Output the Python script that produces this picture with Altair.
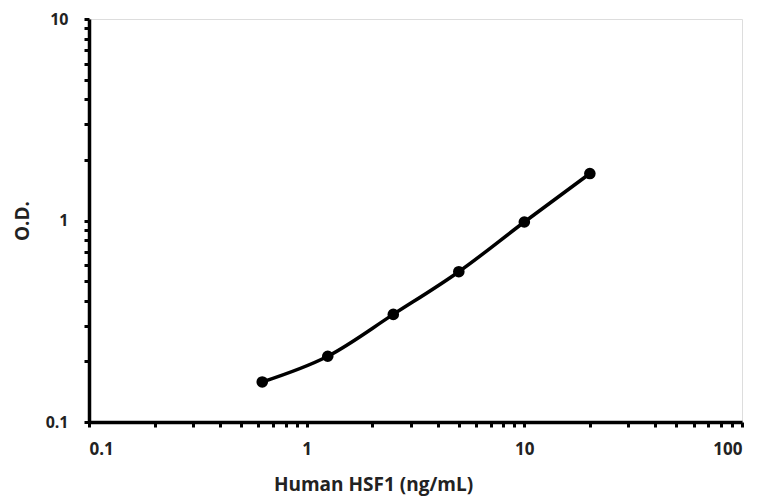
import altair as alt
import pandas as pd

conc = [0.625, 1.25, 2.5, 5, 10, 20]
od = [0.158, 0.212, 0.342, 0.557, 0.983, 1.71]

x_ticks = [0.1, 0.2, 0.3, 0.4, 0.5, 0.6, 0.7, 0.8, 0.9,
           1, 2, 3, 4, 5, 6, 7, 8, 9,
           10, 20, 30, 40, 50, 60, 70, 80, 90, 100]
y_ticks = [0.1, 0.2, 0.3, 0.4, 0.5, 0.6, 0.7, 0.8, 0.9,
           1, 2, 3, 4, 5, 6, 7, 8, 9, 10]

df = pd.DataFrame({"conc": conc, "od": od})

label_expr = ("(datum.value == 0.1 || datum.value == 1 || datum.value == 10 || datum.value == 100)"
              " ? format(datum.value, '~g') : ''")

FONT = "Open Sans"

x = alt.X("conc:Q",
          scale=alt.Scale(type="log", domain=[0.1, 100], nice=False),
          axis=alt.Axis(values=x_ticks, labelExpr=label_expr, labelOverlap=False,
                        title="Human HSF1 (ng/mL)", grid=False,
                        domainColor="black", domainWidth=3.5,
                        tickColor="black", tickWidth=3, tickSize=5,
                        labelPadding=14, labelFontSize=17, labelFont=FONT,
                        labelFontWeight="bold", labelColor="#222",
                        titleFont=FONT, titleFontSize=19, titleFontWeight="bold",
                        titleColor="#222", titleX=284, titleY=53))
y = alt.Y("od:Q",
          scale=alt.Scale(type="log", domain=[0.1, 10], nice=False),
          axis=alt.Axis(values=y_ticks, labelExpr=label_expr, labelOverlap=False,
                        title="O.D.", grid=False,
                        domainColor="black", domainWidth=3.5,
                        tickColor="black", tickWidth=3, tickSize=5,
                        labelPadding=16, labelFontSize=16, labelFont=FONT,
                        labelFontWeight="bold", labelColor="#222",
                        titleFont=FONT, titleFontSize=19, titleFontWeight="bold",
                        titleColor="#222", titlePadding=13))

base = alt.Chart(df)
line = base.mark_line(color="black", strokeWidth=3.5, interpolate="monotone").encode(x=x, y=y)
pts = base.mark_circle(color="black", opacity=1, size=135).encode(x=x, y=y)

chart = alt.layer(line, pts).properties(
    width=653, height=403,
    autosize=alt.AutoSizeParams(type="none"),
    padding={"left": 81, "top": 11, "right": 15, "bottom": 76},
).configure_view(stroke=None).configure(background="white")

chart.save("out.html", embed_options={"renderer": "svg", "actions": False})
